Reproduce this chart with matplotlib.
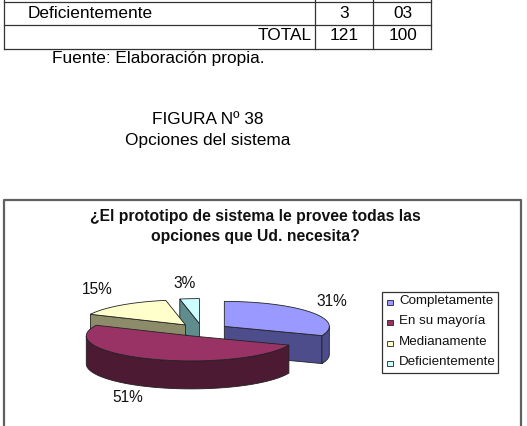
import numpy as np
import matplotlib
matplotlib.use("Agg")
import matplotlib.pyplot as plt
from matplotlib.patches import Polygon, Rectangle

# datos
categorias = ["Completamente", "En su mayoría", "Medianamente", "Deficientemente"]
porcentajes = [31, 51, 15, 3]
etiquetas = ["31%", "51%", "15%", "3%"]
tabla_filas = ["Deficientemente", "TOTAL"]
tabla_frec = ["3", "121"]
tabla_pct = ["03", "100"]

colores_top = ["#9999ff", "#993366", "#ffffcc", "#ccffff"]
colores_lado = ["#4d4d8c", "#4d1a33", "#8c8c6b", "#5f8c8c"]
pos_etiquetas = [(332, 302), (128, 398), (97, 290), (185, 283)]

plt.rcParams['font.family'] = ['Liberation Sans', 'DejaVu Sans']

fig = plt.figure(figsize=(5.27, 4.26), dpi=100)
ax = fig.add_axes([0, 0, 1, 1])
ax.set_xlim(0, 527)
ax.set_ylim(426, 0)
ax.axis('off')

# tabla (parte final)
lc = '#333333'
for y in [2, 25, 49]:
    ax.plot([4, 431], [y, y], color=lc, lw=0.9)
for x in [4, 315, 373, 431]:
    ax.plot([x, x], [0, 49], color=lc, lw=0.9)
fs = 12.4
ax.text(28, 13, tabla_filas[0], fontsize=fs, va='center', ha='left')
ax.text(312, 36, tabla_filas[1], fontsize=fs, va='center', ha='right')
for i, yy in enumerate([13, 36]):
    ax.text(344, yy, tabla_frec[i], fontsize=fs, va='center', ha='center')
    ax.text(403, yy, tabla_pct[i], fontsize=fs, va='center', ha='center')
ax.text(52, 58, "Fuente: Elaboración propia.", fontsize=fs, va='center', ha='left')

ax.text(208, 120, "FIGURA Nº 38", fontsize=fs, va='center', ha='center')
ax.text(208, 140, "Opciones del sistema", fontsize=fs, va='center', ha='center')

# marco del grafico
ax.plot([4, 4, 521, 521], [430, 200, 200, 430], color='#606060', lw=1.6)
ax.text(255, 217, "¿El prototipo de sistema le provee todas las", fontsize=11.3,
        fontweight='bold', va='center', ha='center', color='#111111')
ax.text(255, 237, "opciones que Ud. necesita?", fontsize=11.3,
        fontweight='bold', va='center', ha='center', color='#111111')

# torta 3D
cx0, cy0 = 202, 330
rx, ry, prof = 105, 25, 28
sep = 27
k = ry / rx
ec = '#222222'

fr = np.array(porcentajes) / sum(porcentajes)
lim = np.concatenate([[0], np.cumsum(fr) * 360])


def punto(cx, cy, th):
    t = np.radians(th)
    return cx + rx * np.sin(t), cy - ry * np.cos(t)


def arco(cx, cy, a, b, n=60):
    th = np.linspace(a, b, n)
    x, y = punto(cx, cy, th)
    return np.column_stack([x, y])


sectores = []
for i in range(len(porcentajes)):
    a, b = lim[i], lim[i + 1]
    m = np.radians((a + b) / 2)
    cx = cx0 + sep * np.sin(m)
    cy = cy0 - sep * k * np.cos(m)
    sectores.append((cy, i, a, b, cx))

for cy, i, a, b, cx in sorted(sectores):
    # caras radiales
    for th, nrm in [(a, a - 90), (b, b + 90)]:
        if np.cos(np.radians(nrm)) < -1e-6:
            px, py = punto(cx, cy, th)
            quad = [(cx, cy), (px, py), (px, py + prof), (cx, cy + prof)]
            ax.add_patch(Polygon(quad, closed=True, fc=colores_lado[i], ec=ec, lw=0.6))
    # lado exterior
    lo, hi = max(a, 90), min(b, 270)
    if hi > lo:
        sup = arco(cx, cy, lo, hi)
        inf = sup[::-1] + np.array([0, prof])
        ax.add_patch(Polygon(np.vstack([sup, inf]), closed=True,
                             fc=colores_lado[i], ec=ec, lw=0.6))
    # cara superior
    top = np.vstack([[cx, cy], arco(cx, cy, a, b)])
    ax.add_patch(Polygon(top, closed=True, fc=colores_top[i], ec=ec, lw=0.6))

for (x, y), t in zip(pos_etiquetas, etiquetas):
    ax.text(x, y, t, fontsize=11.2, va='center', ha='center', color='#111111')

# leyenda
ax.add_patch(Rectangle((382, 292), 116, 81, fill=False, ec='#333333', lw=0.9))
for j, nombre in enumerate(categorias):
    yy = 301 + j * 20.3
    ax.add_patch(Rectangle((387, yy - 1), 6, 5, fc=colores_top[j], ec='#222222', lw=0.6))
    ax.text(399, yy, nombre, fontsize=9.6, va='center', ha='left', color='#111111')

fig.savefig("out.png", dpi=100)
